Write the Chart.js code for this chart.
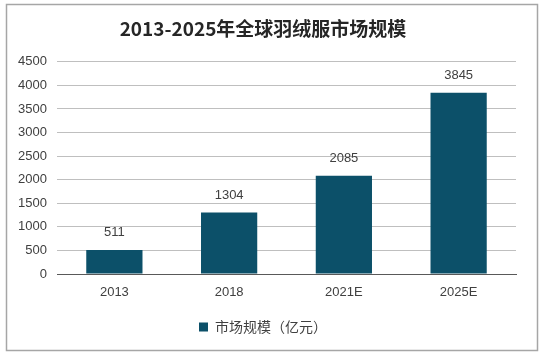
<!DOCTYPE html>
<html><head><meta charset="utf-8">
<script src="https://cdn.jsdelivr.net/npm/chart.js@4"></script>
<style>html,body{margin:0;padding:0;background:#fff}#w{width:553px;height:361px}</style>
</head><body><div id="w"><canvas id="c"></canvas></div>
<script>
const categories = ["2013", "2018", "2021E", "2025E"];
const marketSize = [511, 1304, 2085, 3845];
const seriesName = "市场规模（亿元）";
const chartTitle = "2013-2025年全球羽绒服市场规模";
const yTicks = [0, 500, 1000, 1500, 2000, 2500, 3000, 3500, 4000, 4500];

const frame = {
  id: 'frame',
  beforeDraw(chart) {
    const ctx = chart.ctx;
    ctx.save();
    ctx.fillStyle = '#fff';
    ctx.fillRect(0, 0, chart.width, chart.height);
    ctx.strokeStyle = '#a6a6a6';
    ctx.lineWidth = 1.5;
    ctx.strokeRect(6.5, 4.5, 531, 346);
    ctx.restore();
  }
};
const valueLabels = {
  id: 'valueLabels',
  afterDatasetsDraw(chart) {
    const ctx = chart.ctx;
    const meta = chart.getDatasetMeta(0);
    ctx.save();
    ctx.font = '13px "Liberation Sans", Arial, sans-serif';
    ctx.fillStyle = '#404040';
    ctx.textAlign = 'center';
    ctx.textBaseline = 'middle';
    meta.data.forEach((bar, i) => {
      ctx.fillText(String(chart.data.datasets[0].data[i]), bar.x, bar.y - 17);
    });
    ctx.restore();
  }
};

new Chart(document.getElementById('c'), {
  type: 'bar',
  data: {
    labels: categories,
    datasets: [{
      label: seriesName,
      data: marketSize,
      backgroundColor: '#0c5069',
      categoryPercentage: 1,
      barPercentage: 0.49
    }]
  },
  options: {
    responsive: true,
    maintainAspectRatio: false,
    animation: false,
    layout: { padding: { left: 10, right: 37, bottom: 17 } },
    plugins: {
      title: {
        display: true,
        text: chartTitle,
        color: '#262626',
        font: { family: '"Noto Sans CJK SC", sans-serif', size: 19, weight: 'bold' },
        padding: { top: 17, bottom: 22 }
      },
      legend: {
        position: 'bottom',
        labels: {
          color: '#404040',
          font: { family: '"Noto Sans CJK SC", sans-serif', size: 14 },
          boxWidth: 9, boxHeight: 9,
          padding: 10.5
        }
      },
      tooltip: { enabled: false }
    },
    scales: {
      x: {
        afterFit(scale) { scale.height = 35.5; },
        grid: { display: false, drawTicks: false },
        border: { display: true, color: '#595959', width: 1 },
        ticks: {
          color: '#404040', padding: 11,
          font: { family: '"Liberation Sans", Arial, sans-serif', size: 13 }
        }
      },
      y: {
        min: 0, max: 4500,
        afterBuildTicks(scale) { scale.ticks = yTicks.map(v => ({ value: v })); },
        afterFit(scale) { scale.width = 47; },
        grid: { color: '#bfbfbf', drawTicks: false },
        border: { display: false },
        ticks: {
          color: '#404040', padding: 10,
          callback: (v) => String(v),
          font: { family: '"Liberation Sans", Arial, sans-serif', size: 13 }
        }
      }
    }
  },
  plugins: [frame, valueLabels]
});
</script></body></html>
